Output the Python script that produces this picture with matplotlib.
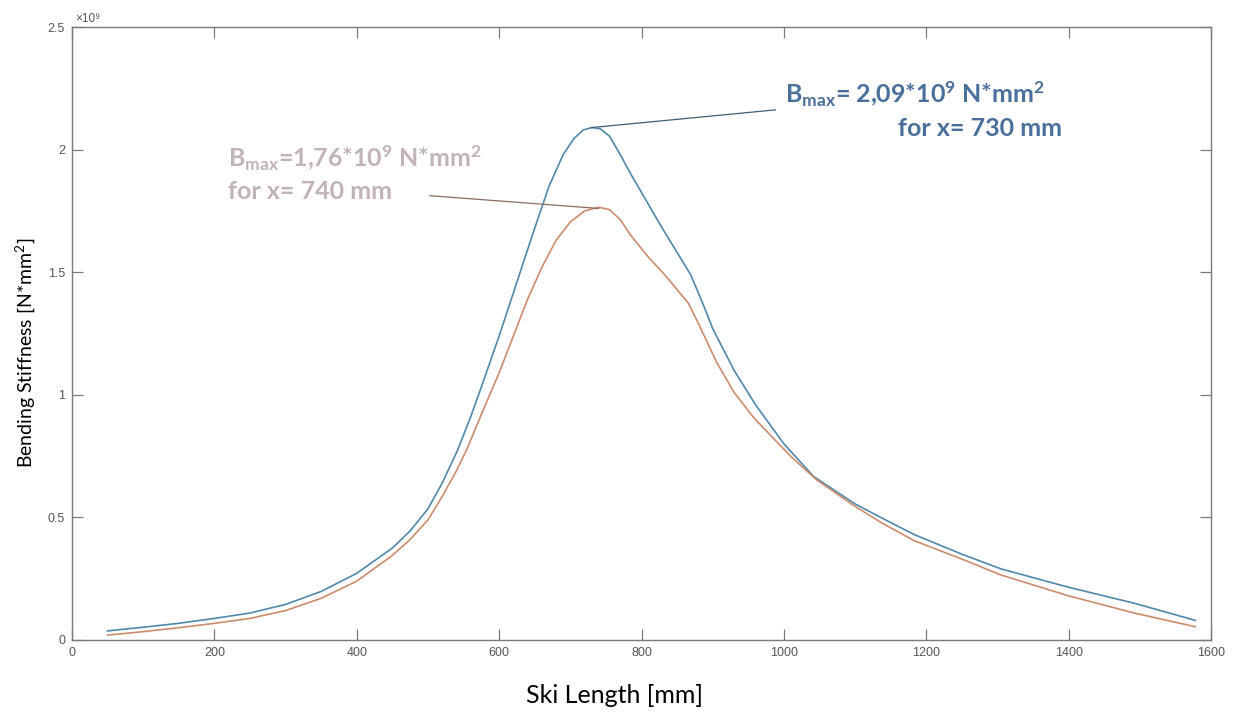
import matplotlib.pyplot as plt
from matplotlib.ticker import FuncFormatter

plt.rcParams['mathtext.fontset'] = 'custom'
plt.rcParams['mathtext.rm'] = 'Lato:bold'
plt.rcParams['mathtext.it'] = 'Lato:bold'
plt.rcParams['mathtext.bf'] = 'Lato:bold'

# bending stiffness along the ski, in 1e9 N*mm^2
x_a = [50, 100, 150, 200, 250, 300, 350, 400, 450, 475, 500, 520, 541, 560, 576, 600,
       625, 650, 670, 690, 705, 718, 730, 742, 755, 770, 785, 827, 869, 885, 900, 930,
       960, 1000, 1042, 1100, 1136, 1183, 1250, 1305, 1400, 1492, 1578]
B_a = [0.037, 0.052, 0.068, 0.088, 0.110, 0.145, 0.198, 0.272, 0.375, 0.445, 0.535,
       0.64, 0.77, 0.91, 1.04, 1.24, 1.46, 1.68, 1.85, 1.98, 2.045, 2.08, 2.09, 2.085,
       2.055, 1.98, 1.90, 1.69, 1.49, 1.38, 1.27, 1.10, 0.96, 0.80, 0.666, 0.555, 0.50,
       0.43, 0.35, 0.29, 0.215, 0.15, 0.08]

x_b = [50, 100, 150, 200, 250, 300, 350, 400, 450, 475, 500, 520, 540, 555, 575, 600,
       620, 640, 660, 680, 700, 720, 740, 755, 770, 785, 810, 831, 866, 880, 906, 930,
       958, 1010, 1045, 1100, 1136, 1183, 1250, 1305, 1400, 1492, 1578]
B_b = [0.020, 0.034, 0.050, 0.068, 0.088, 0.120, 0.170, 0.240, 0.345, 0.41, 0.49,
       0.585, 0.69, 0.78, 0.92, 1.09, 1.24, 1.39, 1.52, 1.63, 1.705, 1.75, 1.765, 1.755,
       1.715, 1.65, 1.56, 1.495, 1.373, 1.29, 1.13, 1.01, 0.905, 0.748, 0.655, 0.545,
       0.48, 0.405, 0.33, 0.265, 0.18, 0.11, 0.054]

peak_a = (730, 2.09)
peak_b = (740, 1.76)
scale = 1e9

fig = plt.figure(figsize=(12.35, 7.13), dpi=100)
ax = fig.add_axes([0.0583, 0.1024, 0.9223, 0.8597])

ax.plot(x_a, [v * scale for v in B_a], color='#5088ab', lw=1.2)
ax.plot(x_b, [v * scale for v in B_b], color='#cc8c6c', lw=1.2)

ax.set_xlim(0, 1600)
ax.set_ylim(0, 2.5e9)
ax.set_xticks(range(0, 1601, 200))
ax.set_yticks([0, 0.5e9, 1e9, 1.5e9, 2e9, 2.5e9])
ax.yaxis.set_major_formatter(FuncFormatter(lambda v, p: '%g' % (v / scale)))
ax.text(0.003, 1.004, '×10⁹', transform=ax.transAxes, fontsize=8.5, color='#555555',
        family=['Liberation Sans', 'DejaVu Sans'], va='bottom', ha='left')

for s in ax.spines.values():
    s.set_color('#7a7a7a')
    s.set_linewidth(1.0)
ax.tick_params(direction='in', length=8, width=0.9, color='#7a7a7a',
               labelcolor='#555555', labelsize=9, top=True, right=True, pad=5)
for lab in ax.get_xticklabels() + ax.get_yticklabels():
    lab.set_family('Liberation Sans')

ax.set_xlabel('Ski Length [mm]', fontsize=18, family='Lato')
ax.xaxis.set_label_coords(0.476, -0.072)
ax.set_ylabel('Bending Stiffness [N*mm$^{\\mathregular{2}}$]', fontsize=14, family='Lato')
ax.yaxis.set_label_coords(-0.031, 0.468)

# leader lines from each maximum to its label
ax.plot([peak_a[0], 988], [peak_a[1] * scale, 2.162e9], color='#3d5f75', lw=0.9)
ax.plot([peak_b[0], 503], [peak_b[1] * scale, 1.812e9], color='#8a6d60', lw=0.9)

blue_txt = '#4a6f9c'
ax.text(1002, 2.19e9, 'B$_{max}$= 2,09*10$^{9}$ N*mm$^{2}$', color=blue_txt,
        fontsize=18, family='Lato', weight='bold', va='baseline', ha='left')
ax.text(1391, 2.055e9, 'for x= 730 mm', color=blue_txt,
        fontsize=18, family='Lato', weight='bold', va='baseline', ha='right')

grey_txt = '#c2b3b7'
ax.text(219, 1.93e9, 'B$_{max}$=1,76*10$^{9}$ N*mm$^{2}$', color=grey_txt,
        fontsize=18, family='Lato', weight='bold', va='baseline', ha='left')
ax.text(219, 1.80e9, 'for x= 740 mm', color=grey_txt,
        fontsize=18, family='Lato', weight='bold', va='baseline', ha='left')

fig.savefig('out.png', dpi=100)
